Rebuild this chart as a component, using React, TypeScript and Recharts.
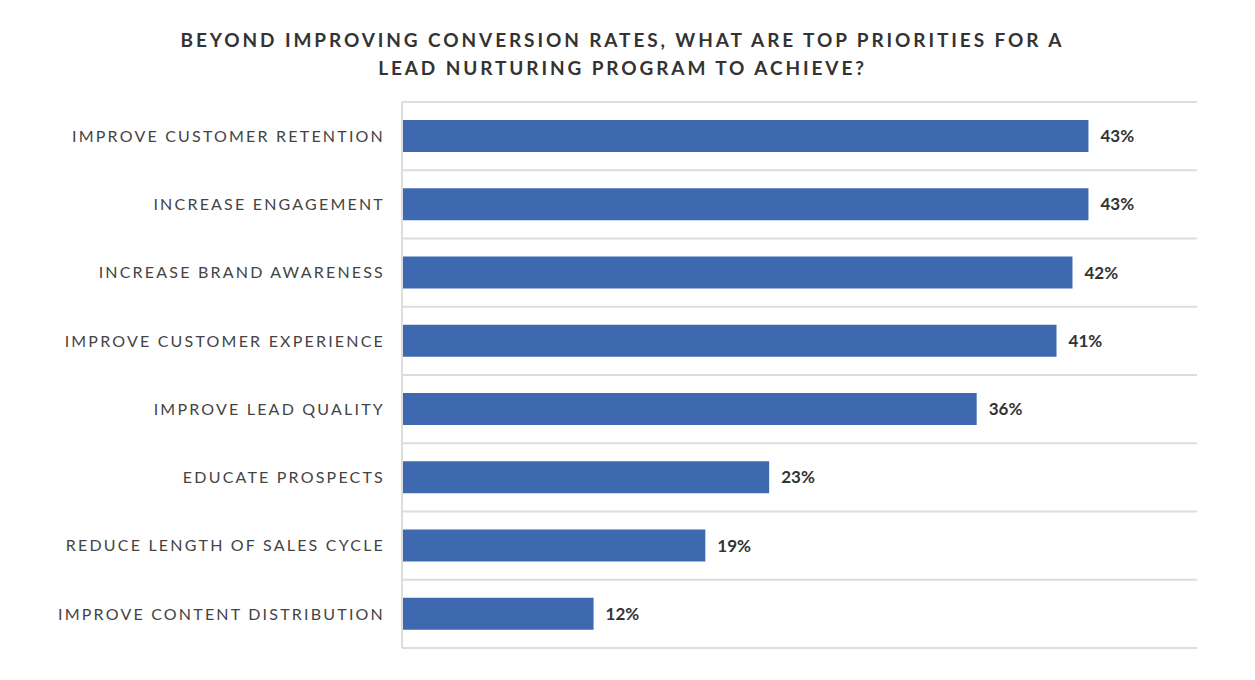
import React from "react";
import { BarChart, Bar, XAxis, YAxis, CartesianGrid, LabelList } from "recharts";

const categories = [
  "IMPROVE CUSTOMER RETENTION",
  "INCREASE ENGAGEMENT",
  "INCREASE BRAND AWARENESS",
  "IMPROVE CUSTOMER EXPERIENCE",
  "IMPROVE LEAD QUALITY",
  "EDUCATE PROSPECTS",
  "REDUCE LENGTH OF SALES CYCLE",
  "IMPROVE CONTENT DISTRIBUTION",
];
const values = [43, 43, 42, 41, 36, 23, 19, 12];
const titleLines = [
  "BEYOND IMPROVING CONVERSION RATES, WHAT ARE TOP PRIORITIES FOR A",
  "LEAD NURTURING PROGRAM TO ACHIEVE?",
];

const data = categories.map((c, i) => ({ name: c, value: values[i] }));

const FONT = "Lato, 'Noto Sans', sans-serif";

export default function App() {
  return (
    <div style={{ position: "absolute", left: 0, top: 0, width: 1255, height: 680, background: "#fff" }}>
      <div
        style={{
          position: "absolute",
          left: 0,
          top: 26,
          width: 1245,
          textAlign: "center",
          fontFamily: FONT,
          fontWeight: 700,
          fontSize: 19,
          letterSpacing: 2.9,
          lineHeight: "28px",
          color: "#333",
        }}
      >
        {titleLines.map((t) => (
          <div key={t}>{t}</div>
        ))}
      </div>
      <BarChart
        width={1255}
        height={680}
        data={data}
        layout="vertical"
        margin={{ top: 102, right: 58, bottom: 32, left: 0 }}
      >
        <CartesianGrid
          vertical={false}
          stroke="#dddddd"
          strokeWidth={2}
          horizontalCoordinatesGenerator={(props: any) => {
            const off = props.offset;
            const n = categories.length;
            return Array.from({ length: n + 1 }, (_, i) => off.top + (i * off.height) / n);
          }}
        />
        <XAxis type="number" domain={[0, 49.8]} hide />
        <YAxis
          type="category"
          dataKey="name"
          width={402}
          axisLine={{ stroke: "#dddddd", strokeWidth: 2 }}
          tickLine={false}
          tickSize={0}
          tickMargin={17}
          interval={0}
          tick={{ fill: "#444", fontSize: 16, fontFamily: FONT, letterSpacing: 2.2 }}
        />
        <Bar dataKey="value" fill="#3E69B1" barSize={32} isAnimationActive={false}>
          <LabelList
            dataKey="value"
            position="right"
            offset={12}
            formatter={(v: any) => `${v}%`}
            style={{ fill: "#333", fontSize: 17, fontWeight: 700, fontFamily: FONT }}
          />
        </Bar>
      </BarChart>
    </div>
  );
}
